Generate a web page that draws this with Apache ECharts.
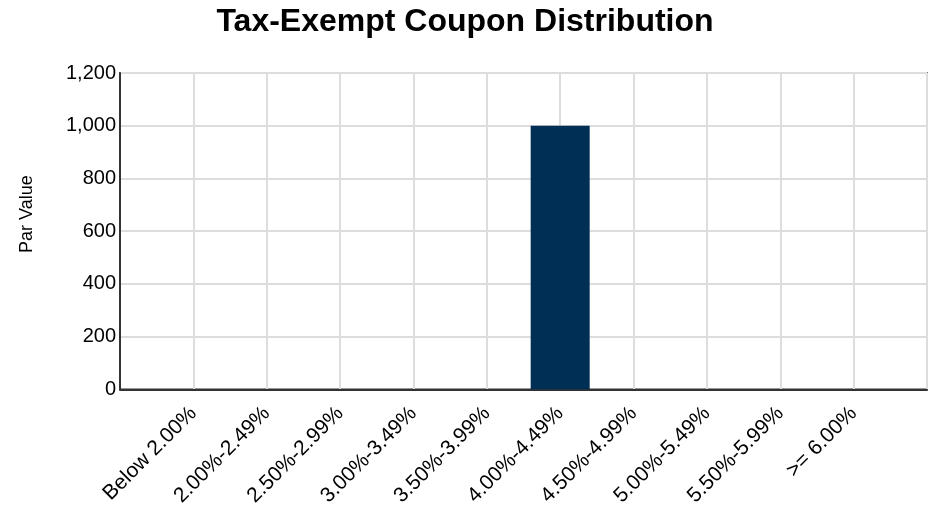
<!DOCTYPE html>
<html>
<head>
<meta charset="utf-8">
<script src="https://cdn.jsdelivr.net/npm/echarts@6/dist/echarts.min.js"></script>
<style>
  html, body { margin: 0; padding: 0; background: #fff; }
  #chart { width: 930px; height: 509px; }
</style>
</head>
<body>
<div id="chart"></div>
<script>
const categories = ["Below 2.00%", "2.00%-2.49%", "2.50%-2.99%", "3.00%-3.49%", "3.50%-3.99%",
  "4.00%-4.49%", "4.50%-4.99%", "5.00%-5.49%", "5.50%-5.99%", ">= 6.00%"];
const parValues = [0, 0, 0, 0, 0, 1000, 0, 0, 0, 0];
const yTicks = { min: 0, max: 1200, interval: 200 };

// padded ends so the categories sit on grid lines like the original
const axisData = [""].concat(categories, [""]);
const seriesData = [null].concat(parValues, [null]);

const myChart = echarts.init(document.getElementById("chart"));
const font = "Liberation Sans, Arial, sans-serif";

myChart.setOption({
  animation: false,
  title: {
    text: "Tax-Exempt Coupon Distribution",
    left: "center",
    top: 1,
    textStyle: { fontFamily: font, fontSize: 32, fontWeight: "bold", color: "#000" },
  },
  grid: {
    left: 120, right: 3, top: 73, bottom: 119,
    show: true, borderColor: "#777", borderWidth: 2,
  },
  xAxis: {
    type: "category",
    data: axisData,
    boundaryGap: false,
    axisLine: { lineStyle: { color: "#333", width: 2 } },
    axisTick: { show: false },
    axisLabel: {
      interval: 0, rotate: 45, fontFamily: font, fontSize: 21, color: "#000", margin: 21,
    },
    splitLine: { show: true, lineStyle: { color: "#ddd", width: 2 } },
  },
  yAxis: {
    type: "value",
    min: yTicks.min, max: yTicks.max, interval: yTicks.interval,
    name: "Par Value",
    nameLocation: "middle",
    nameGap: 84,
    nameTextStyle: { fontFamily: font, fontSize: 18, color: "#000", padding: [0, 0, 0, 34] },
    axisLine: { show: true, lineStyle: { color: "#333", width: 2 } },
    axisTick: { show: false },
    axisLabel: {
      fontFamily: font, fontSize: 20, color: "#000", margin: 4,
      formatter: (v) => v.toLocaleString("en-US"),
    },
    splitLine: { lineStyle: { color: "#ddd", width: 2 } },
  },
  series: [{
    type: "bar",
    data: seriesData,
    barWidth: 59,
    itemStyle: { color: "#002f56" },
  }],
});
</script>
</body>
</html>
